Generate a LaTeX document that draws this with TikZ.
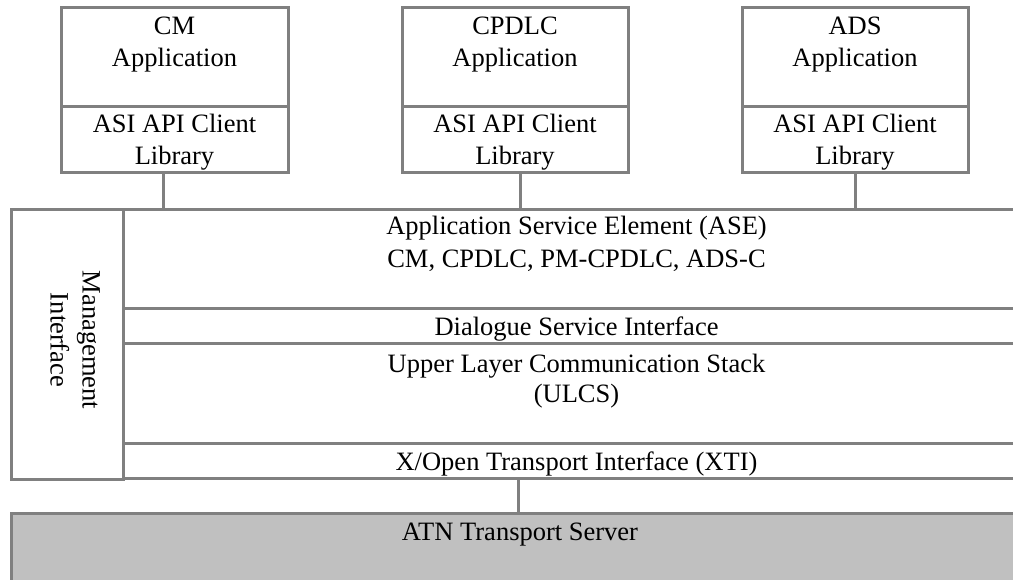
\documentclass[tikz,border=0pt]{standalone}
\usepackage{fontspec}
\setmainfont{Liberation Serif}
\definecolor{linegrey}{HTML}{808080}
\definecolor{atnfill}{HTML}{C0C0C0}
\begin{document}
\begin{tikzpicture}[x=1pt,y=-1pt,
  box/.style={draw=linegrey, line width=3pt, inner sep=0pt, outer sep=0pt, anchor=north west},
  lbl/.style={inner sep=0pt, outer sep=0pt, anchor=base, font=\fontsize{26.5}{31}\selectfont},
  conn/.style={draw=linegrey, line width=3pt}]
\useasboundingbox (0,0) rectangle (1013,580);
\fill[white] (0,0) rectangle (1013,580);
\clip (0,0) rectangle (1013,580);

% application boxes
\node[box, minimum width=227pt, minimum height=99.5pt] (cmapp) at (61,7.5) {};
\node[box, minimum width=227pt, minimum height=66pt] (cmlib) at (61,107) {};
\node[box, minimum width=226pt, minimum height=99.5pt] (cpapp) at (402,7.5) {};
\node[box, minimum width=226pt, minimum height=66pt] (cplib) at (402,107) {};
\node[box, minimum width=226pt, minimum height=99.5pt] (adsapp) at (742,7.5) {};
\node[box, minimum width=226pt, minimum height=66pt] (adslib) at (742,107) {};

% main stack
\node[box, minimum width=112pt, minimum height=269.5pt] (mgmt) at (11,209.5) {};
\node[box, minimum width=907pt, minimum height=99.5pt] (ase) at (123,209.5) {};
\node[box, minimum width=907pt, minimum height=35pt] (dsi) at (123,309) {};
\node[box, minimum width=907pt, minimum height=99pt] (ulcs) at (123,344) {};
\node[box, minimum width=907pt, minimum height=35.5pt] (xti) at (123,443) {};

% ATN transport server
\node[box, fill=atnfill, minimum width=1019pt, minimum height=90pt] (atn) at (11,513.5) {};

% connectors
\coordinate (k1) at (163,0);
\coordinate (k2) at (520,0);
\coordinate (k3) at (855,0);
\coordinate (k4) at (518,0);
\draw[conn] (k1 |- cmlib.south) -- (k1 |- ase.north);
\draw[conn] (k2 |- cplib.south) -- (k2 |- ase.north);
\draw[conn] (k3 |- adslib.south) -- (k3 |- ase.north);
\draw[conn] (k4 |- xti.south) -- (k4 |- atn.north);

% labels
\node[lbl] (t1) at (174.5,35) {CM};
\node[lbl] (t2) at (174.5,67) {Application};
\node[lbl] (t3) at (174.5,133) {ASI API Client};
\node[lbl] (t4) at (174.5,165) {Library};
\node[lbl] (t5) at (515,35) {CPDLC};
\node[lbl] (t6) at (515,67) {Application};
\node[lbl] (t7) at (515,133) {ASI API Client};
\node[lbl] (t8) at (515,165) {Library};
\node[lbl] (t9) at (855,35) {ADS};
\node[lbl] (t10) at (855,67) {Application};
\node[lbl] (t11) at (855,133) {ASI API Client};
\node[lbl] (t12) at (855,165) {Library};

\node[lbl, rotate=-90] (m1) at (82.5,340) {Management};
\node[lbl, rotate=-90] (m2) at (50.5,340) {Interface};

\node[lbl] (a1) at (576.5,235) {Application Service Element (ASE)};
\node[lbl] (a2) at (576.5,268) {CM, CPDLC, PM-CPDLC, ADS-C};
\node[lbl] (d1) at (576.5,335) {Dialogue Service Interface};
\node[lbl] (u1) at (576.5,372) {Upper Layer Communication Stack};
\node[lbl] (u2) at (576.5,402) {(ULCS)};
\node[lbl] (x1) at (576.5,470) {X/Open Transport Interface (XTI)};
\node[lbl] (n1) at (520,540) {ATN Transport Server};
\end{tikzpicture}
\end{document}
